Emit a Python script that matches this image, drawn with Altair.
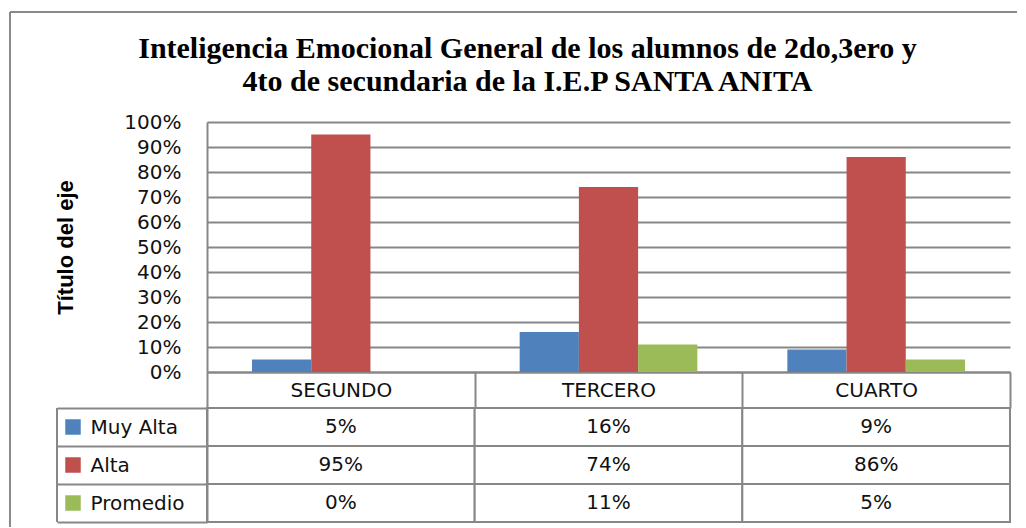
import altair as alt
import pandas as pd

grados = ["SEGUNDO", "TERCERO", "CUARTO"]
series = ["Muy Alta", "Alta", "Promedio"]
muy_alta = [0.05, 0.16, 0.09]
alta = [0.95, 0.74, 0.86]
promedio = [0.00, 0.11, 0.05]
colores = ["#4F81BD", "#C0504D", "#9BBB59"]
y_ticks = [0.0, 0.1, 0.2, 0.3, 0.4, 0.5, 0.6, 0.7, 0.8, 0.9, 1.0]
titulo = ["Inteligencia Emocional General de los alumnos de 2do,3ero y",
          "4to de secundaria de la I.E.P SANTA ANITA"]

rows = []
for s, vals in zip(series, [muy_alta, alta, promedio]):
    for g, v in zip(grados, vals):
        rows.append({"grado": g, "serie": s, "valor": v})
df = pd.DataFrame(rows)
df_series = pd.DataFrame({"serie": series})
df_one = pd.DataFrame({"k": [0]})

GRAY = "#878787"
FRAME = "#8a8a8a"
FONT = "DejaVu Sans"
FS = 20
W = 803

color = alt.Color("serie:N", scale=alt.Scale(domain=series, range=colores), legend=None)
xscale = alt.Scale(domain=grados, paddingInner=0, paddingOuter=0)

bars = alt.Chart(df).mark_bar().encode(
    x=alt.X("grado:N", sort=grados, scale=xscale,
            axis=alt.Axis(title=None, labelAngle=0, tickBand="extent", tickSize=36,
                          tickColor=GRAY, tickWidth=2, domainColor=GRAY, domainWidth=2,
                          labelPadding=-18, labelBaseline="middle", labelFont=FONT,
                          labelFontSize=FS, labelColor="#111111", grid=False)),
    xOffset=alt.XOffset("serie:N", sort=series,
                        scale=alt.Scale(domain=series, paddingInner=0, paddingOuter=0.76)),
    y=alt.Y("valor:Q", scale=alt.Scale(domain=[0, 1]),
            axis=alt.Axis(values=y_ticks, format=".0%", title="Título del eje",
                          titleFont="Liberation Sans", titleFontSize=22, titleFontWeight="bold",
                          titleColor="#000000", titlePadding=46,
                          labelFont=FONT, labelFontSize=FS, labelColor="#111111",
                          labelPadding=26, ticks=False, domainColor=GRAY, domainWidth=2,
                          gridColor=GRAY, gridWidth=2)),
    color=color,
)

# outer chart-area frame (top and left edges; the rest lies outside the picture)
frame_top = alt.Chart(df_one).mark_rule(color=FRAME, strokeWidth=2).encode(
    x=alt.value(-197), x2=alt.value(810), y=alt.value(-110))
frame_left = alt.Chart(df_one).mark_rule(color=FRAME, strokeWidth=2).encode(
    x=alt.value(-197), y=alt.value(-110), y2=alt.value(405))

top = alt.layer(frame_top, frame_left, bars).properties(width=W, height=250)

ycat = alt.Y("serie:N", sort=series, scale=alt.Scale(domain=series, paddingInner=0, paddingOuter=0),
             axis=alt.Axis(title=None, tickBand="extent", tickSize=150, tickColor=GRAY,
                           tickWidth=2, domainColor=GRAY, domainWidth=2, labelAlign="left",
                           labelPadding=-33, labelFont=FONT, labelFontSize=FS,
                           labelColor="#111111", grid=False))
xcat = alt.X("grado:N", sort=grados, scale=xscale, axis=None)

cells = alt.Chart(df).mark_rect(fill="white", stroke=GRAY, strokeWidth=2).encode(x=xcat, y=ycat)
texts = alt.Chart(df).mark_text(font=FONT, fontSize=FS, color="#111111").encode(
    x=xcat, y=ycat, text=alt.Text("valor:Q", format=".0%"))
squares = alt.Chart(df_series).mark_point(shape="square", filled=True, size=240, opacity=1).encode(
    x=alt.value(-134), y=ycat, color=color)
border = alt.Chart(df_one).mark_rule(color=GRAY, strokeWidth=2).encode(
    x=alt.value(-150), y=alt.value(0), y2=alt.value(114))

table = alt.layer(cells, texts, squares, border).properties(width=W, height=114)

chart = alt.vconcat(top, table, spacing=36, bounds="flush").properties(
    title=alt.TitleParams(titulo, font="Liberation Serif", fontSize=30, fontWeight="bold",
                          anchor="middle", lineHeight=33, offset=-86, dx=14, color="#000000"),
    padding={"left": 1, "top": 3, "right": 0, "bottom": 0},
).configure_view(strokeWidth=0)

chart.save("out.html", embed_options={"renderer": "svg", "actions": False})
